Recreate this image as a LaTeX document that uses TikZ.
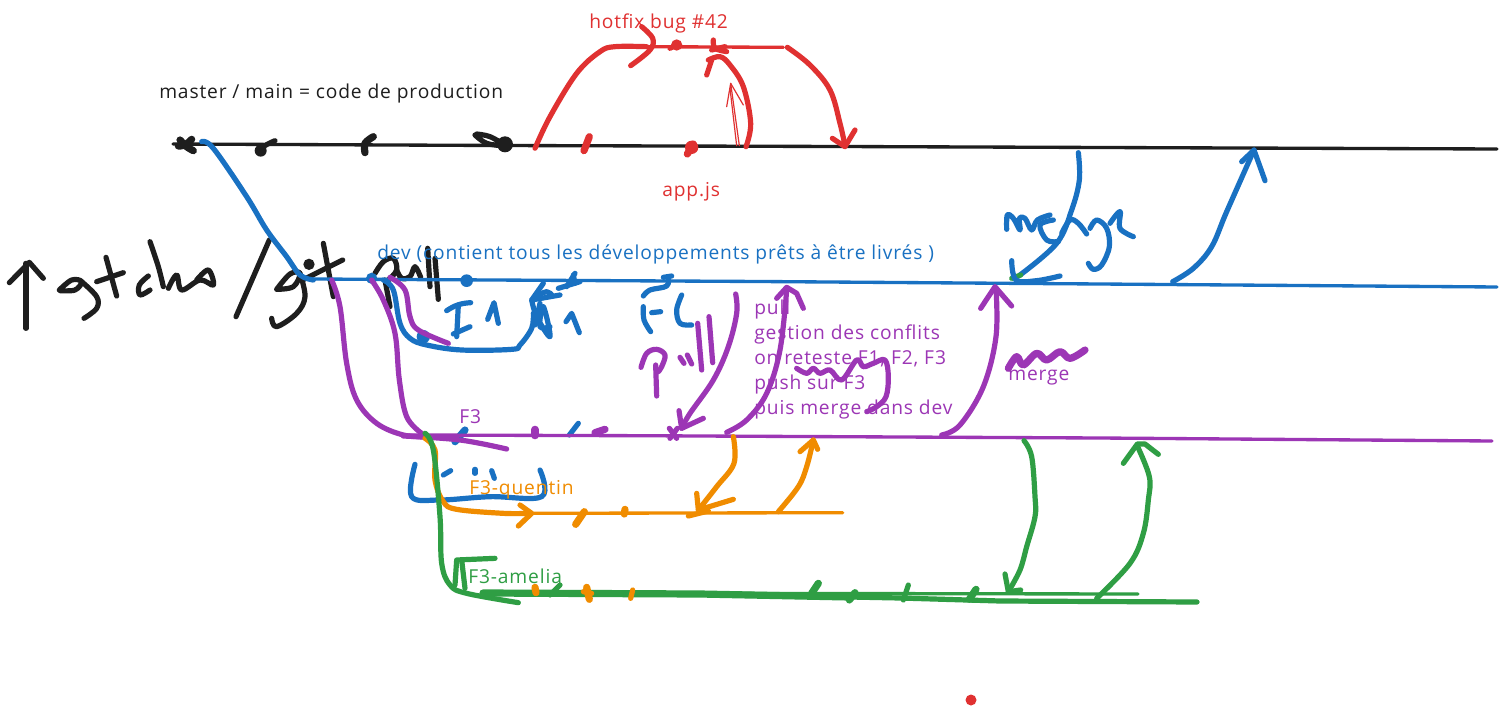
\documentclass[tikz,border=0pt]{standalone}
\usepackage{fontspec}
\setmainfont[LetterSpace=4.5]{Open Sans}
\definecolor{cblack}{HTML}{1E1E1E}
\definecolor{cred}{HTML}{E03131}
\definecolor{cblue}{HTML}{1971C2}
\definecolor{cpurple}{HTML}{9C36B5}
\definecolor{corange}{HTML}{F08C00}
\definecolor{cgreen}{HTML}{2F9E44}
\newcommand\skt[2][]{\draw[pen,#1] plot[smooth,tension=.6] coordinates {#2};}
\tikzset{
  pen/.style={line cap=round,line join=round,line width=3.9pt},
  blob/.style={line width=5.4pt},
  thinpen/.style={line width=2.5pt},
  hairpen/.style={line width=.9pt},
  zoomed/.style 2 args={shift={(#1,#2)},x=.25pt,y=-.25pt},
  label/.style={anchor=west,inner sep=0pt,font=\fontsize{14.4pt}{18.75pt}\selectfont},
}
\begin{document}
\begin{tikzpicture}[x=.75pt,y=-.75pt]
\useasboundingbox[fill=white] (0,0) rectangle (1506,710);

%% ---------- master (black)
\draw[pen,thinpen,cblack] (173,144) -- (500,145.5) -- (840,146.5) -- (1497,149);
\begin{scope}[zoomed={0}{130},cblack]
  \skt[cblack,blob]{(540,30)(560,50)(580,62)}
  \skt[cblack,blob]{(575,28)(555,45)(535,48)}
  \skt[cblack]{(780,70)(790,50)(825,32)}
  \fill (782,62) circle (18);
  \skt[cblack,blob]{(1120,20)(1095,40)(1095,68)}
  % git clone
  \skt[cblack]{(78,595)(78,400)}
  \draw[pen,cblack] (28,458) -- (88,397) -- (130,445);
  \skt[cblack]{(178,480)(215,450)(245,455)(225,480)(180,482)}
  \skt[cblack]{(245,455)(290,500)(290,535)(252,565)}
  \draw[pen,cblack] (318,382) -- (350,498);
  \draw[pen,cblack] (290,455) -- (370,428);
  \skt[cblack]{(445,438)(418,465)(420,495)(450,480)}
  \skt[cblack]{(450,335)(475,410)(490,470)}
  \skt[cblack]{(505,475)(530,435)(545,480)(600,450)(640,465)(625,420)(590,450)}
  \draw[pen,cblack] (808,330) -- (708,560);
  \skt[cblack]{(830,478)(870,432)(900,430)(880,470)(830,478)}
  \skt[cblack]{(900,430)(915,500)(890,550)(830,590)(815,565)}
  \fill (927,403) circle (17);
  \draw[pen,cblack] (970,340) -- (1000,500);
  \draw[pen,cblack] (908,450) -- (1028,390);
  % Pull
  \skt[cblack]{(1125,430)(1150,395)(1180,385)(1190,420)(1165,450)}
  \draw[pen,cblack] (1155,450) -- (1170,530);
  \skt[cblack]{(1190,420)(1205,445)(1230,440)(1245,410)(1262,442)}
  \draw[pen,cblack] (1283,355) -- (1290,470);
  \draw[pen,cblack] (1305,385) -- (1315,508);
\end{scope}
\begin{scope}[zoomed={470}{130},cblack]
  \skt[cblack]{(20,12)(60,20)(100,45)(50,40)(15,15)}
  \fill (105,43) circle (24);
\end{scope}

%% ---------- hotfix (red)
\begin{scope}[zoomed={500}{0}]
  \skt[cred]{(105,445)(150,350)(230,220)(300,155)(345,140)(440,140)}
  \draw[pen,thinpen,cred] (440,140) -- (850,142);
  \skt[cred]{(425,80)(458,115)(450,150)(392,197)}
  \fill[cred] (530,135) circle (17);
  \draw[pen,cred] (510,145) -- (530,135);
  \skt[cred]{(640,120)(645,145)(680,155)}
  \draw[pen,cred] (635,150) -- (675,140);
  \skt[cred]{(738,440)(752,370)(730,260)(690,195)(660,170)(625,180)}
  \draw[pen,cred] (620,225) -- (635,180);
  \draw[pen,hairpen,cred] (718,437) -- (692,250) -- (680,320);
  \draw[pen,hairpen,cred] (692,250) -- (730,315);
  \draw[pen,hairpen,cred] (710,437) -- (690,265);
  \skt[cred]{(862,142)(930,195)(990,270)(1020,370)(1035,438)}
  \draw[pen,cred] (997,415) -- (1035,440) -- (1065,390);
  \draw[pen,cred,blob] (268,410) -- (252,452);
  \fill[cred] (575,442) circle (20);
  \draw[pen,cred,blob] (562,462) -- (580,432);
\end{scope}

%% ---------- dev (blue)
\draw[pen,thinpen,cblue] (313,279) -- (760,281.5) -- (1100,284) -- (1497,287);
\begin{scope}[zoomed={0}{130}]
  \skt[cblue]{(605,35)(640,55)(740,200)(800,300)(860,380)(900,435)(940,450)}
\end{scope}
\begin{scope}[zoomed={340}{270}]
  \fill[cblue] (95,25) circle (17);
  \fill[cblue] (380,32) circle (19);
  \fill[cblue] (250,200) circle (20);
  \skt[cblue]{(130,30)(160,60)(180,160)(210,205)(260,225)(365,240)(515,238)(540,225)(575,175)(580,130)}
  % I 1
  \draw[pen,cblue] (320,122) to[bend left=15] (392,98);
  \draw[pen,cblue] (355,105) -- (350,200);
  \draw[pen,cblue] (340,192) -- (390,170);
  \draw[pen,cblue] (443,148) -- (462,98) -- (475,160);
  % F scribble
  \draw[pen,cblue] (610,40) -- (575,90) -- (660,75);
  \skt[cblue]{(575,90)(590,140)(630,200)(610,110)(600,170)(630,170)}
  \skt[cblue]{(585,80)(620,65)(635,75)}
  \draw[pen,cblue] (600,100) -- (585,165);
  \draw[pen,cblue] (655,55) -- (720,35);
  \draw[pen,cblue] (680,50) -- (705,10);
  \draw[pen,cblue] (700,15) -- (705,40);
  \draw[pen,cblue] (678,155) -- (695,130) -- (718,188);
  % F2
  \skt[cblue]{(910,78)(930,60)(980,48)(985,20)}
  \draw[pen,cblue] (970,22) -- (995,18);
  \skt[cblue]{(910,110)(912,150)(932,185)}
  \draw[pen,cblue] (935,128) -- (962,125);
  \skt[cblue]{(1025,75)(1010,120)(1020,160)(1055,165)}
  % ticks on the F3 line
  \draw[pen,cblue,blob] (345,515) -- (375,480);
  \draw[pen,cblue] (688,495) -- (715,460);
\end{scope}
\begin{scope}[zoomed={950}{140}]
  \skt[cblue]{(385,38)(388,120)(365,210)(320,310)(210,405)}
  \draw[pen,cgreen] (185,415) -- (212,405);
  \skt[cblue]{(185,362)(198,420)(260,422)(330,408)}
  \skt[cblue]{(170,268)(172,225)(190,235)(210,270)(208,235)(225,235)(245,270)(262,240)(300,225)}
  \skt[cblue]{(310,240)(270,255)(290,300)(325,305)}
  \skt[cblue]{(335,280)(360,240)(385,250)(410,282)}
  \skt[cblue]{(420,265)(440,240)(470,265)(478,320)(455,375)(430,388)(415,370)}
  \skt[cblue]{(480,250)(510,215)(510,265)(550,290)}
  \skt[cblue]{(668,425)(730,385)(785,320)(830,215)(912,30)}
  \draw[pen,cblue] (875,65) -- (912,30) -- (945,122);
\end{scope}
\begin{scope}[zoomed={390}{430}]
  \skt[cblue]{(75,103)(65,200)(150,210)(300,200)(455,200)(450,120)}
  \draw[pen,cblue] (160,135) -- (182,122);
  \draw[pen,cblue] (255,118) -- (255,130);
  \draw[pen,cblue] (305,122) -- (313,145);
\end{scope}

%% ---------- F3 (purple)
\draw[pen,thinpen,cpurple] (403,435) -- (640,435.7) -- (1100,438) -- (1492,441);
\begin{scope}[zoomed={340}{270}]
  \skt[cpurple]{(-25,30)(0,110)(20,280)(50,390)(110,460)(190,495)(260,500)}
  \skt[cpurple]{(95,30)(130,90)(165,190)(178,330)(200,440)(245,490)}
  \skt[cpurple]{(150,22)(195,60)(210,140)(235,180)(325,220)}
  \skt[cpurple]{(190,498)(360,510)(500,537)}
  \draw[pen,cpurple,blob] (585,478) -- (585,497);
  \draw[pen,cpurple,blob] (765,488) -- (795,478);
  \draw[pen,cpurple] (988,475) -- (1010,505);
  \draw[pen,cpurple] (1012,475) -- (990,505);
  % Pull
  \skt[cpurple]{(903,292)(920,250)(950,238)(975,255)(965,290)(955,305)}
  \draw[pen,cpurple] (947,285) -- (950,378);
  \draw[pen,cpurple] (1020,262) -- (1032,280);
  \draw[pen,cpurple] (1042,255) -- (1055,282);
  \draw[pen,cpurple] (1073,160) -- (1085,300);
  \draw[pen,cpurple] (1107,140) -- (1118,278);
  \skt[cpurple]{(1187,72)(1190,130)(1165,230)(1120,330)(1050,430)(1025,475)}
  \draw[pen,cpurple] (1017,422) -- (1025,475) -- (1090,445);
\end{scope}
\begin{scope}[zoomed={640}{270}]
  \skt[cpurple]{(260,487)(320,450)(380,370)(420,240)(440,60)}
  \draw[pen,cpurple] (410,85) -- (440,52) -- (470,70) -- (490,115);
  \skt[cpurple]{(905,495)(960,465)(1030,350)(1068,200)(1068,55)}
  \draw[pen,cpurple] (1022,115) -- (1065,50) -- (1115,108);
  \skt[cpurple]{(470,295)(500,310)(520,295)(540,310)(570,300)(605,330)(650,270)(670,290)(700,280)(735,270)(745,320)(738,380)(710,410)(680,425)}
  \skt[cpurple,blob]{(1105,295)(1130,260)(1150,285)(1190,250)(1220,270)(1260,245)(1290,265)(1335,240)}
\end{scope}

%% ---------- F3-quentin (orange)
\begin{scope}[zoomed={390}{430}]
  \skt[corange]{(105,25)(135,60)(135,150)(160,215)(200,238)(340,250)(415,250)}
  \draw[pen,thinpen,corange] (415,250) -- (1358,248);
  \draw[pen,corange] (390,225) -- (425,250) -- (385,288);
  \draw[pen,corange,blob] (583,245) -- (557,283);
  \draw[pen,corange,blob] (705,238) -- (703,252);
  \skt[corange]{(1030,20)(1032,100)(980,170)(925,240)}
  \draw[pen,corange] (920,190) -- (925,240) -- (1030,208);
  \draw[pen,corange] (895,258) -- (955,243);
  \skt[corange]{(1165,245)(1225,170)(1250,110)(1270,30)}
  \draw[pen,corange] (1230,65) -- (1270,30) -- (1283,58);
\end{scope}

%% ---------- F3-amelia (green)
\draw[pen,thinpen,cgreen] (483,593) -- (1138,594);
\draw[pen,cgreen,blob] (483,593) -- (700,594) -- (850,597);
\draw[pen,cgreen] (850,597) -- (900,598) -- (1000,601) -- (1197,602);
\begin{scope}[zoomed={390}{430}]
  \skt[cgreen]{(105,10)(130,60)(150,260)(155,400)(180,465)(230,490)(385,518)}
  \draw[pen,cgreen] (315,385) -- (200,390) -- (195,465);
  \draw[pen,cgreen] (215,390) -- (225,475);
  \draw[pen,cgreen] (510,465) -- (480,495);
  \draw[pen,cgreen,blob] (1285,460) -- (1265,490);
  \draw[pen,cgreen,blob] (1395,488) -- (1378,510);
  \draw[pen,corange,blob] (435,472) -- (438,488);
  \draw[pen,corange,blob] (590,472) -- (598,508);
  \draw[pen,corange] (580,485) -- (605,490);
  \draw[pen,corange] (728,480) -- (722,505);
\end{scope}
\begin{scope}[zoomed={900}{420}]
  \draw[pen,cgreen] (25,495) -- (10,540);
  \draw[pen,cgreen,blob] (228,508) -- (208,538);
  \skt[cgreen]{(372,62)(395,110)(405,230)(405,290)(380,380)(360,450)(325,515)}
  \draw[pen,cgreen] (315,462) -- (325,515) -- (362,510);
  \skt[cgreen]{(590,535)(690,430)(730,340)(745,240)(748,170)(712,78)}
  \draw[pen,cgreen] (670,130) -- (712,72) -- (735,72) -- (775,103);
\end{scope}

%% ---------- lone dot
\fill[cred] (971,700) circle (5.5);

%% ---------- texts
\node[label,text=cblack] (tmaster) at (159,94) {master / main = code de production};
\node[label,text=cred] (thotfix) at (589,23) {hotfix bug \#42};
\node[label,text=cred] (tapp) at (662,192) {app.js};
\node[label,text=cblue] (tdev) at (377,254) {dev (contient tous les développements prêts à être livrés )};
\node[label,text=cpurple,align=left] (tnotes) at (754,360) {pull\\gestion des conflits\\on reteste F1, F2, F3\\push sur F3\\puis merge dans dev};
\node[label,text=cpurple] (tmerge) at (1008,378) {merge};
\node[label,text=cpurple] (tfthree) at (459,417) {F3};
\node[label,text=corange] (tquentin) at (469,490) {F3-quentin};
\node[label,text=cgreen] (tamelia) at (468,576) {F3-amelia};
\end{tikzpicture}
\end{document}
